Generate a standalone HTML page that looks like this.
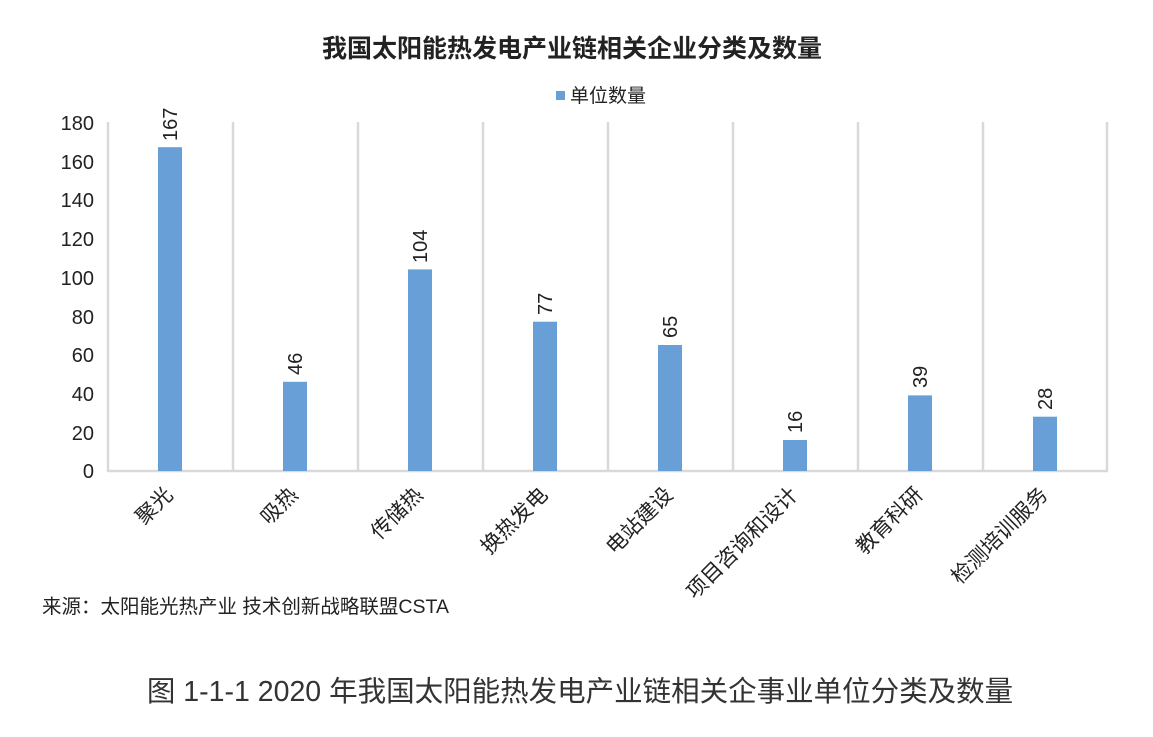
<!DOCTYPE html>
<html><head><meta charset="utf-8"><style>
html,body{margin:0;padding:0;background:#fff;}
svg{display:block;font-family:"Liberation Sans","Noto Sans CJK SC",sans-serif;}
</style></head><body>
<svg width="1153" height="737" viewBox="0 0 1153 737" xmlns="http://www.w3.org/2000/svg">
<text x="572" y="57" text-anchor="middle" font-size="25" font-weight="bold" fill="#222">我国太阳能热发电产业链相关企业分类及数量</text>
<rect x="556" y="91" width="9" height="9" fill="#679fd6"/>
<text x="570" y="102" font-size="19" fill="#222">单位数量</text>
<g stroke="#d9d9d9" stroke-width="2.5">
<line x1="108" y1="122" x2="108" y2="471"/><line x1="233" y1="122" x2="233" y2="471"/>
<line x1="358" y1="122" x2="358" y2="471"/><line x1="483" y1="122" x2="483" y2="471"/>
<line x1="608" y1="122" x2="608" y2="471"/><line x1="733" y1="122" x2="733" y2="471"/>
<line x1="858" y1="122" x2="858" y2="471"/><line x1="983" y1="122" x2="983" y2="471"/>
<line x1="1107" y1="122" x2="1107" y2="471"/>
<line x1="107" y1="471" x2="1108" y2="471"/>
</g>
<g font-size="20" fill="#222" text-anchor="end">
<text x="94" y="130">180</text><text x="94" y="169">160</text><text x="94" y="207">140</text>
<text x="94" y="246">120</text><text x="94" y="285">100</text><text x="94" y="324">80</text>
<text x="94" y="362">60</text><text x="94" y="401">40</text><text x="94" y="440">20</text>
<text x="94" y="478">0</text>
</g>
<g fill="#679fd6">
<rect x="158" y="147.2" width="24" height="323.8"/>
<rect x="283" y="381.8" width="24" height="89.2"/>
<rect x="408" y="269.4" width="24" height="201.6"/>
<rect x="533" y="321.7" width="24" height="149.3"/>
<rect x="658" y="345.0" width="24" height="126"/>
<rect x="783" y="440.0" width="24" height="31"/>
<rect x="908" y="395.4" width="24" height="75.6"/>
<rect x="1033" y="416.7" width="24" height="54.3"/>
</g>
<g font-size="20" fill="#222">
<text transform="translate(177,141) rotate(-90)">167</text>
<text transform="translate(302,375) rotate(-90)">46</text>
<text transform="translate(427,263) rotate(-90)">104</text>
<text transform="translate(552,315) rotate(-90)">77</text>
<text transform="translate(677,338) rotate(-90)">65</text>
<text transform="translate(802,433) rotate(-90)">16</text>
<text transform="translate(927,388) rotate(-90)">39</text>
<text transform="translate(1052,410) rotate(-90)">28</text>
</g>
<g font-size="21" fill="#222" text-anchor="end">
<text transform="translate(174,496) rotate(-45)">聚光</text>
<text transform="translate(299,496) rotate(-45)">吸热</text>
<text transform="translate(424,496) rotate(-45)">传储热</text>
<text transform="translate(549,496) rotate(-45)">换热发电</text>
<text transform="translate(674,496) rotate(-45)">电站建设</text>
<text transform="translate(799,496) rotate(-45)">项目咨询和设计</text>
<text transform="translate(924,496) rotate(-45)">教育科研</text>
<text transform="translate(1049,496) rotate(-45)">检测培训服务</text>
</g>
<text x="42" y="613" font-size="19.5" fill="#222">来源：太阳能光热产业 技术创新战略联盟CSTA</text>
<text x="580" y="701" text-anchor="middle" font-size="28.5" fill="#333">图 1-1-1  2020 年我国太阳能热发电产业链相关企事业单位分类及数量</text>
</svg>
</body></html>
